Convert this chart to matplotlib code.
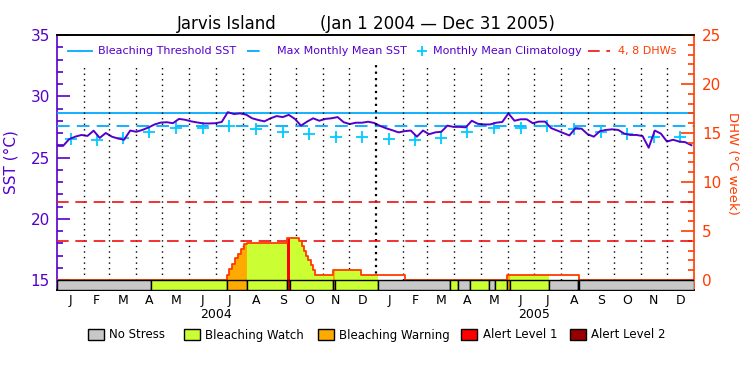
import numpy as np
import matplotlib
matplotlib.use("Agg")
import matplotlib.pyplot as plt
from matplotlib.patches import Rectangle
from matplotlib.lines import Line2D
from matplotlib.ticker import FixedLocator
from matplotlib.transforms import blended_transform_factory

plt.rcParams['font.family'] = ['DejaVu Sans']

PURPLE = '#5500cc'
ORANGE_RED = '#ff3c00'
SKY = '#00aaff'
CYAN = '#00ccff'
RED_DASH = '#ee1111'

# ---- data (days since Jan 1 2004) ----
month_len = [31, 29, 31, 30, 31, 30, 31, 31, 30, 31, 30, 31,
             31, 28, 31, 30, 31, 30, 31, 31, 30, 31, 30, 31]
month_letters = list("JFMAMJJASOND") * 2

threshold_sst = 28.6
mmm_sst = 27.6
clim_month = [26.55, 26.4, 26.63, 27.12, 27.42, 27.42,
              27.55, 27.3, 27.1, 26.9, 26.65, 26.68]

# weekly SST, starting Jan 1 2004
sst_days = np.arange(105) * 7
sst_vals = [25.95, 25.95, 26.5, 26.7, 26.84, 26.76, 27.19, 26.6, 27.0, 26.7,
            26.55, 26.45, 27.2, 27.1, 27.25, 27.45, 27.7, 27.85, 27.88, 27.8,
            28.15, 28.08, 27.95, 27.86, 27.78, 27.78, 27.8, 27.9, 28.7, 28.55,
            28.6, 28.5, 28.2, 28.06, 27.95, 28.2, 28.38, 28.3, 28.48, 28.15,
            27.6, 27.93, 28.2, 28.0, 28.15, 28.2, 28.3, 27.88, 27.73, 27.84,
            27.84, 27.92, 27.82, 27.57, 27.38, 27.22, 27.05, 27.15, 27.2, 26.7,
            27.2, 26.9, 27.05, 27.1, 27.6, 27.5, 27.5, 27.46, 28.0, 27.75,
            27.7, 27.7, 27.84, 27.9, 28.6, 28.0, 28.12, 28.12, 27.8, 27.93,
            27.93, 27.4, 27.2, 27.0, 26.8, 27.4, 27.35, 26.9, 26.7, 27.15,
            27.25, 27.3, 27.25, 26.95, 26.84, 26.84, 26.75, 25.8, 27.2, 26.95,
            26.3, 26.45, 26.3, 26.25, 26.0]

# DHW step function (value holds from each day until the next)
dhw_days = [0, 194.7, 197.7, 201.2, 204.6, 208.1, 211.5, 214.3, 217.7, 264.3,
            278.1, 280.8, 283.5, 285.8, 288.4, 291.1, 293.4, 296.1, 317.1,
            348.5, 399.4, 516.8, 599.4, 731]
dhw_vals = [0, 0.55, 1.1, 1.6, 2.2, 2.7, 3.2, 3.65, 3.75, 4.25,
            4.0, 3.5, 3.0, 2.5, 2.0, 1.5, 1.0, 0.5, 1.0,
            0.5, 0, 0.5, 0, 0]
dhw_levels = [4, 8]

# stress level segments: start day, end day, level (0 none .. 4 alert 2)
stress_start = [0, 107.5, 194.7, 218.4, 264.3, 267, 317, 319, 368.4, 450.5,
                460.5, 474.3, 495.4, 502.3, 516.8, 519.9, 565, 597.6, 599.4]
stress_end = [107.5, 194.7, 218.4, 264.3, 267, 317, 319, 368.4, 450.5, 460.5,
              474.3, 495.4, 502.3, 516.8, 519.9, 565, 597.6, 599.4, 731]
stress_level = [0, 1, 2, 1, 3, 1, 2, 1, 0, 1, 0, 1, 0, 1, 2, 1, 0, 1, 0]

stress_names = ['No Stress', 'Bleaching Watch', 'Bleaching Warning',
                'Alert Level 1', 'Alert Level 2']
stress_colors = ['#c8c8c8', '#ccff33', '#ffaa00', '#ff0000', '#990000']

# ---- figure ----
W, H = 750, 375
def fx(px):
    return px / W
def fy(py):
    return 1 - py / H

fig = plt.figure(figsize=(7.5, 3.75), dpi=100)
ax = fig.add_axes([fx(57), fy(290), 637 / W, 255 / H])
ax2 = ax.twinx()

sst_lo = 15 - 10 / 12.25
dhw_lo = -10 / 9.8
ax.set_xlim(0, 731)
ax.set_ylim(sst_lo, 35)
ax2.set_ylim(dhw_lo, 25)

starts = np.concatenate([[0], np.cumsum(month_len)])
mids = starts[:-1] + np.array(month_len) / 2

# month grid (year boundary a bit heavier)
dot_top = (280 - 65) / 9.8
for d in starts[1:-1]:
    if d == 366:
        ax2.vlines(d, 0, dot_top, colors='k', linestyles=(0, (1, 1.9)),
                   lw=1.6, zorder=1)
    else:
        ax2.vlines(d, 0, dot_top, colors='k', linestyles=(0, (1, 3)),
                   lw=1, zorder=1)

# DHW threshold lines
for lv in dhw_levels:
    ax2.axhline(lv, color=RED_DASH, lw=1.2, ls=(0, (7, 4)), zorder=2)

# SST lines
ax.axhline(threshold_sst, color=SKY, lw=1.3, zorder=3)
ax.axhline(mmm_sst, color=SKY, lw=1.3, ls=(0, (7, 4)), zorder=3)
ax.plot(mids, np.tile(clim_month, 2), ls='none', marker='+', ms=8, mew=1.3,
        color=CYAN, zorder=4)
ax.plot(sst_days, sst_vals, color=PURPLE, lw=1.4, zorder=5)

# DHW area filled by stress colour
dd = np.array(dhw_days)
dv = np.array(dhw_vals)
def dhw_at(t):
    i = np.searchsorted(dd, t, side='right') - 1
    return dv[max(i, 0)]

for a, b, lv in zip(stress_start, stress_end, stress_level):
    if lv == 0:
        continue
    pts = [a] + [d for d in dd if a < d < b] + [b]
    vals = [dhw_at(p) for p in pts]
    ax2.fill_between(pts, vals, step='post', color=stress_colors[lv],
                     lw=0, zorder=2.5)
ax2.step(dd, dv, where='post', color=ORANGE_RED, lw=1.3, zorder=3)

# stress bar
ax2.bar(stress_start, -dhw_lo, bottom=dhw_lo,
        width=np.array(stress_end) - np.array(stress_start), align='edge',
        color=[stress_colors[l] for l in stress_level], edgecolor='k',
        lw=1.0, zorder=6)

# axes styling
ax.spines['right'].set_visible(False)
ax2.spines['left'].set_visible(False)
ax.spines['left'].set_color(PURPLE)
ax2.spines['right'].set_color(ORANGE_RED)
for s in ('top', 'bottom'):
    ax2.spines[s].set_color('k')
for a_ in (ax, ax2):
    for s in a_.spines.values():
        s.set_linewidth(1.2)

ax.set_yticks([15, 20, 25, 30, 35])
ax.yaxis.set_minor_locator(FixedLocator(range(15, 36)))
ax.tick_params(axis='y', which='major', direction='in', length=9.5, width=1.2,
               color=PURPLE, labelcolor=PURPLE, labelsize=11, pad=5)
ax.tick_params(axis='y', which='minor', direction='in', length=4.5, width=1.2,
               color=PURPLE)
ax2.set_yticks([0, 5, 10, 15, 20, 25])
ax2.yaxis.set_minor_locator(FixedLocator(range(0, 26)))
ax2.tick_params(axis='y', which='major', direction='in', length=9.5, width=1.2,
                color=ORANGE_RED, labelcolor=ORANGE_RED, labelsize=11, pad=6)
ax2.tick_params(axis='y', which='minor', direction='in', length=4.5, width=1.2,
                color=ORANGE_RED)

ax.set_xticks(mids, month_letters)
ax.tick_params(axis='x', length=0, labelsize=9, pad=3)

ax.set_ylabel('SST (°C)', color=PURPLE, fontsize=11)
ax.yaxis.set_label_coords(fx(18 - 57) * W / 637, 0.5)
ax2.set_ylabel('DHW (°C week)', color=ORANGE_RED, fontsize=9.5, rotation=270,
               va='center')
ax2.yaxis.set_label_coords(1 + (733 - 694) / 637, (290 - 163) / 255)

# year labels
tr = blended_transform_factory(ax.transData, fig.transFigure)
ax.text(starts[6], fy(315), '2004', transform=tr, ha='center', va='center',
        fontsize=9)
ax.text(starts[18], fy(315), '2005', transform=tr, ha='center', va='center',
        fontsize=9)

# title
fig.text(fx(176.5), fy(29), 'Jarvis Island', fontsize=12, va='baseline')
fig.text(fx(320.5), fy(29), '(Jan 1 2004 \u2014 Dec 31 2005)', fontsize=12,
         va='baseline')

# top legend
ly = fy(51)
fig.add_artist(Line2D([fx(68), fx(92)], [ly, ly], color=SKY, lw=1.3))
fig.text(fx(98), ly, 'Bleaching Threshold SST', color=PURPLE, fontsize=8,
         va='center')
fig.add_artist(Line2D([fx(247), fx(266)], [ly, ly], color=SKY, lw=1.3,
                      ls=(0, (7, 4))))
fig.text(fx(277), ly, 'Max Monthly Mean SST', color=PURPLE, fontsize=8,
         va='center')
fig.add_artist(Line2D([fx(422)], [ly], color=CYAN, marker='+', ms=7, mew=1.3))
fig.text(fx(433), ly, 'Monthly Mean Climatology', color=PURPLE, fontsize=8,
         va='center')
fig.add_artist(Line2D([fx(588), fx(610)], [ly, ly], color=RED_DASH, lw=1.2,
                      ls=(0, (7, 4))))
fig.text(fx(618), ly, '4, 8 DHWs', color=ORANGE_RED, fontsize=8, va='center')

# bottom legend
box_x = [87.5, 183.5, 317.5, 461.5, 569.5]
for bx, name, col in zip(box_x, stress_names, stress_colors):
    fig.add_artist(Rectangle((fx(bx), fy(340)), 16 / W, 11 / H,
                             facecolor=col, edgecolor='k', lw=1.0))
    fig.text(fx(bx + 21.5), fy(335), name, fontsize=8.5, va='center')

fig.savefig('out.png', dpi=100)
